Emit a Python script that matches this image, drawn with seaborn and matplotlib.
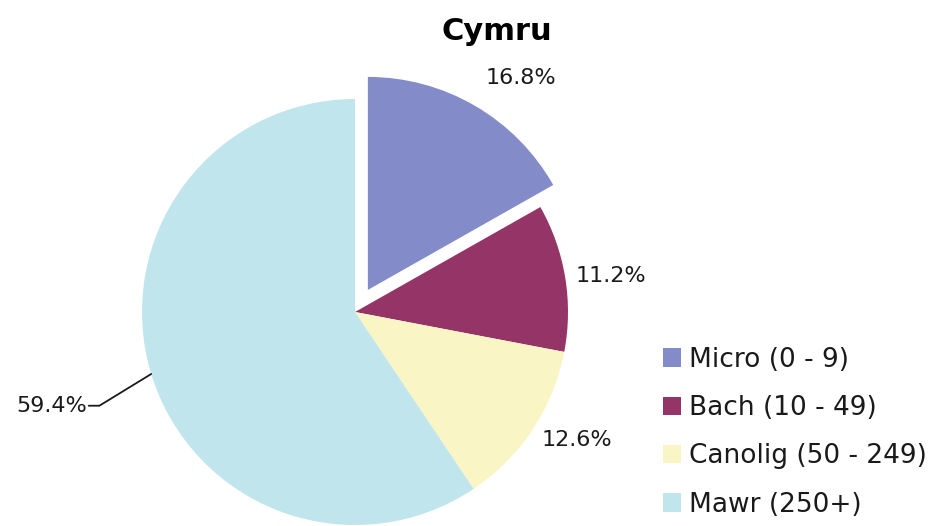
import numpy as np
import matplotlib
matplotlib.use('Agg')
import matplotlib.pyplot as plt
import seaborn as sns

# data
categories = ['Micro (0 - 9)', 'Bach (10 - 49)', 'Canolig (50 - 249)', 'Mawr (250+)']
shares = [16.8, 11.2, 12.6, 59.4]
colors = ['#838cc8', '#953467', '#faf5c5', '#c1e5ec']
title = 'Cymru'

sns.set_theme(style='white')
plt.rcParams['font.family'] = ['DejaVu Sans']

fig = plt.figure(figsize=(9.52, 5.26), dpi=100)
# square axes centred on the pie (centre ~ (355, 312) px, radius ~ 213 px)
ax = fig.add_axes([142/952, 1/526, 426/952, 426/526])

wedges, _ = ax.pie(shares, colors=colors, startangle=90, counterclock=False,
                   explode=[0.12, 0, 0, 0], wedgeprops=dict(linewidth=0))
for w in wedges:
    w.set_clip_on(False)
ax.set_xlim(-1, 1)
ax.set_ylim(-1, 1)
ax.set_aspect('equal')

txt_col = '#1a1a1a'
# percentage labels
label_pos = [(0.78, 1.10), (1.20, 0.17), (1.04, -0.60)]
for i in range(3):
    ax.text(label_pos[i][0], label_pos[i][1], f'{shares[i]:.1f}%',
            fontsize=16, ha='center', va='center', color=txt_col)

# Mawr label with leader line
w = wedges[3]
mid = np.deg2rad((w.theta1 + w.theta2) / 2)
x0, y0 = np.cos(mid), np.sin(mid)
xc, yc = -1.20, -0.44
ax.plot([x0, xc, -1.25], [y0, yc, yc], color=txt_col, lw=1.3, clip_on=False)
ax.text(-1.26, yc, f'{shares[3]:.1f}%', fontsize=16, ha='right', va='center', color=txt_col)

fig.text(497/952, 1 - 31/526, title, fontsize=22, fontweight='bold',
         ha='center', va='center', color='black')

fig.legend(wedges, categories, loc='upper left', bbox_to_anchor=(652/952, 1 - 336/526),
           frameon=False, fontsize=19, handlelength=0.7, handleheight=0.7,
           handletextpad=0.3, labelspacing=0.85, borderaxespad=0,
           labelcolor=txt_col)

fig.savefig('out.png', dpi=100)
